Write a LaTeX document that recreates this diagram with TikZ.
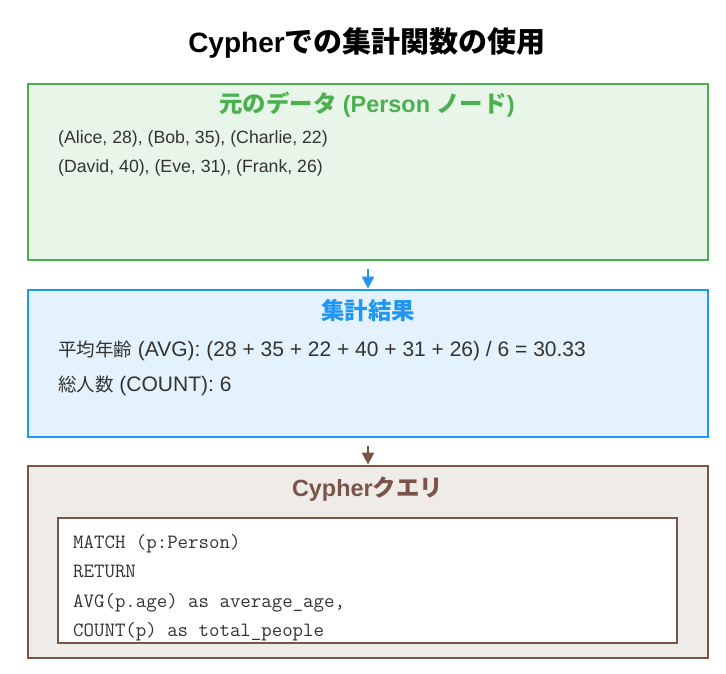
\documentclass[tikz,border=0pt]{standalone}
\usepackage{fontspec}
\setmainfont{Liberation Sans}
\newfontfamily\cjk{Noto Sans CJK JP}
\newfontfamily\cjkn[Scale=0.88]{Noto Sans CJK JP}
\usetikzlibrary{arrows.meta}
\definecolor{gstroke}{HTML}{4CAF50}
\definecolor{gfill}{HTML}{E8F5E9}
\definecolor{bstroke}{HTML}{2196F3}
\definecolor{bfill}{HTML}{E3F2FD}
\definecolor{rstroke}{HTML}{795548}
\definecolor{rfill}{HTML}{EFEBE9}
\definecolor{bodytext}{HTML}{333333}
\newcommand{\jp}[1]{{\cjk #1}}
\newcommand{\jpn}[1]{{\cjkn #1}}
\tikzset{
  panel/.style={draw=#1stroke, fill=#1fill, line width=2.7pt, minimum width=680pt, inner sep=0pt, rectangle},
  heading/.style={anchor=base, text=#1stroke, font=\fontsize{23.4}{26}\selectfont\bfseries, inner sep=0pt},
  bodyline/.style={anchor=base west, text=bodytext, inner sep=0pt},
  codeline/.style={anchor=base west, text=bodytext, inner sep=0pt, font=\fontsize{20.3}{22}\selectfont\ttfamily},
  conn/.style={draw=#1, line width=2pt, -{Triangle[width=12pt,length=12pt]}, shorten <=8pt}
}
\begin{document}
\begin{tikzpicture}[x=1pt,y=-1pt]
\useasboundingbox (0,0) rectangle (726,674);
% title
\node[anchor=base, inner sep=0pt, font=\fontsize{28}{32}\selectfont\bfseries] (title) at (367,53)
  {Cypher{\fontsize{29}{32}\selectfont\jp{での集計関数の使用}}};
% panels
\node[panel=g, minimum height=176pt] (green) at (368,172) {};
\node[panel=b, minimum height=147pt] (blue) at (368,363.5) {};
\node[panel=r, minimum height=192pt] (brown) at (368,562) {};
\node[draw=rstroke, fill=white, line width=1.5pt, minimum width=619pt, minimum height=125pt, inner sep=0pt] (code) at (367.5,580.5) {};
% green content
\node[heading=g] (gtitle) at (367,113) {\jp{元のデータ} (Person \jp{ノード})};
\node[bodyline, font=\fontsize{17.7}{20}\selectfont] (d1) at (58,143.3) {(Alice, 28), (Bob, 35), (Charlie, 22)};
\node[bodyline, font=\fontsize{17.7}{20}\selectfont] (d2) at (58,172.5) {(David, 40), (Eve, 31), (Frank, 26)};
% blue content
\node[heading=b] (btitle) at (368,319) {\jp{集計結果}};
\node[bodyline, font=\fontsize{21}{24}\selectfont] (r1) at (58,356) {\jpn{平均年齢} (AVG): (28 + 35 + 22 + 40 + 31 + 26) / 6 = 30.33};
\node[bodyline, font=\fontsize{21}{24}\selectfont] (r2) at (58,391.7) {\jpn{総人数} (COUNT): 6};
% brown content
\node[heading=r] (rtitle) at (367.5,496) {Cypher\jp{クエリ}};
\node[codeline] (c1) at (73,548.3) {MATCH (p:Person)};
\node[codeline] (c2) at (73,577.7) {RETURN};
\node[codeline] (c3) at (73,607.3) {AVG(p.age) as average\_age,};
\node[codeline] (c4) at (73,636) {COUNT(p) as total\_people};
% connectors
\draw[conn=bstroke] (green.south) -- (blue.north);
\draw[conn=rstroke] (blue.south) -- (brown.north);
\end{tikzpicture}
\end{document}
